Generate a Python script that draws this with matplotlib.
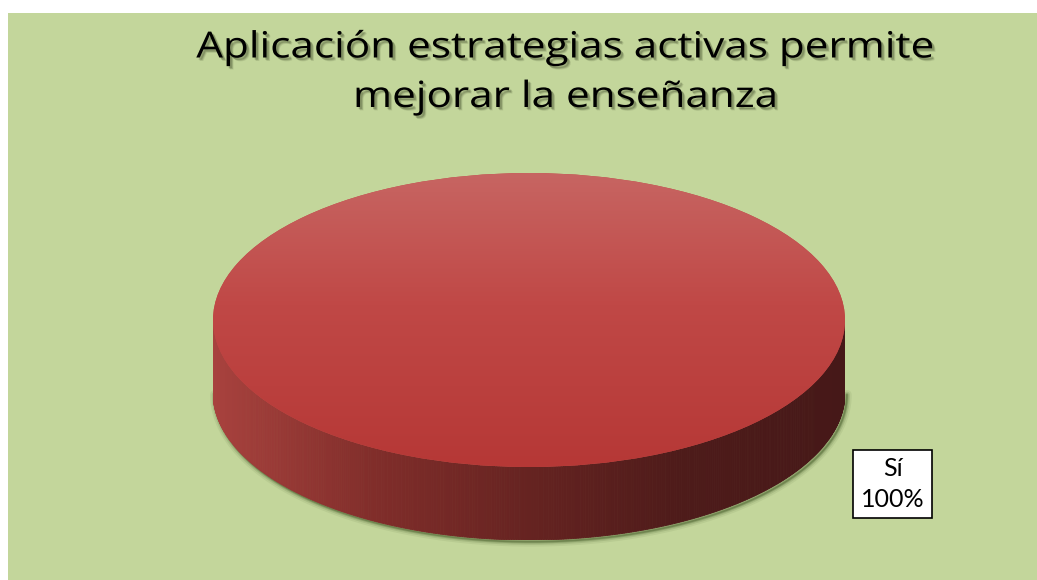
import numpy as np
import matplotlib
matplotlib.use("Agg")
import matplotlib.pyplot as plt
from matplotlib.patches import Rectangle, Polygon
from matplotlib.colors import LinearSegmentedColormap
from matplotlib.transforms import Affine2D
import matplotlib.patheffects as pe

# ---- data ----
categories = ["Sí"]
values = [100]
title = "Aplicación estrategias activas permite\nmejorar la enseñanza"

W, H = 1037, 580
fig = plt.figure(figsize=(W / 100, H / 100), dpi=100)
fig.patch.set_facecolor("white")

# green chart area
bg = fig.add_axes([0, 0, 1, 1])
bg.set_xlim(0, W)
bg.set_ylim(H, 0)
bg.axis("off")
bg.add_patch(Rectangle((8, 13), W - 8, H - 13, facecolor="#C3D69B", edgecolor="none"))


class Stretch(pe.AbstractPathEffect):
    """Horizontal widening around a centre, to imitate the wide letter spacing."""
    def __init__(self, cx, sx, offset=(0, 0), color=None, alpha=1.0):
        super().__init__(offset)
        self.cx, self.sx, self.color, self.alpha = cx, sx, color, alpha

    def draw_path(self, renderer, gc, tpath, affine, rgbFace=None):
        aff = (affine + Affine2D().translate(-self.cx, 0).scale(self.sx, 1)
               .translate(self.cx, 0) + self._offset_transform(renderer))
        gc0 = renderer.new_gc()
        gc0.copy_properties(gc)
        face = rgbFace
        if self.color is not None:
            face = matplotlib.colors.to_rgba(self.color, self.alpha)
            gc0.set_alpha(self.alpha)
        renderer.draw_path(gc0, tpath, aff, face)
        gc0.restore()


cx = 566
shadow_fx = [Stretch(cx, 1.17, offset=(dx, dy), color="#202a10", alpha=a)
             for dx, dy, a in [(2.5, -2.5, 0.10), (2, -2, 0.15), (1.5, -1.5, 0.2)]]
bg.text(cx, 29, title, ha="center", va="top", fontsize=26,
        family="Open Sans", color="black", linespacing=1.5,
        path_effects=shadow_fx + [Stretch(cx, 1.17)])

# ---- pie axes ----
rx_px, ry_px, depth_px = 316, 147, 73
left, top = 213, 173
d = depth_px / ry_px
ax = fig.add_axes([left / W, (H - (top + 2 * ry_px + depth_px)) / H,
                   2 * rx_px / W, (2 * ry_px + depth_px) / H])
wedges, _ = ax.pie(values, startangle=90, counterclock=False,
                   wedgeprops=dict(linewidth=0))
ax.set_aspect("auto")
ax.axis("off")

side_cmap = LinearSegmentedColormap.from_list(
    "side", [(0.0, (168/255, 66/255, 62/255)), (0.26, (128/255, 45/255, 42/255)),
             (0.5, (102/255, 35/255, 33/255)), (0.74, (78/255, 27/255, 26/255)),
             (1.0, (70/255, 24/255, 24/255))])
top_cmap = LinearSegmentedColormap.from_list(
    "top", [(0.0, (199/255, 101/255, 98/255)), (0.45, (192/255, 72/255, 70/255)),
            (1.0, (182/255, 56/255, 54/255))])

# soft shadow under the side
th = np.linspace(np.pi * 1.0, np.pi * 2.0, 300)
for lw, a in [(7, 0.07), (4.5, 0.12), (2.5, 0.2), (1.2, 0.3)]:
    ax.plot(np.cos(th) * 1.0 + 0.006, np.sin(th) - d - 0.012, color="#2c4212",
            lw=lw, alpha=a, solid_capstyle="round", clip_on=False, zorder=1)

# side of the cylinder (front half), strips coloured by horizontal position
for w in wedges:
    t1, t2 = w.theta1, w.theta2
    span = t2 - t1
    n = 400
    th = np.linspace(np.pi, 2 * np.pi, n + 1)
    for i in range(n):
        a0, a1 = th[i], th[i + 1]
        tm = np.rad2deg(0.5 * (a0 + a1))
        if span < 359.999 and ((tm - t1) % 360) > span:
            continue
        x0, x1 = np.cos(a0), np.cos(a1)
        y0, y1 = np.sin(a0), np.sin(a1)
        c = side_cmap((np.cos(np.deg2rad(tm)) + 1) / 2)
        ax.add_patch(Polygon([(x0, y0), (x1, y1), (x1, y1 - d), (x0, y0 - d)],
                             closed=True, facecolor=c, edgecolor=c, lw=0.6, zorder=2))

# top face with vertical gradient clipped to each wedge
grad = np.linspace(0, 1, 256).reshape(-1, 1)
for w in wedges:
    w.set_zorder(3)
    w.set_facecolor((0.75, 0.28, 0.27))
    im = ax.imshow(grad, cmap=top_cmap, extent=[-1, 1, -1, 1], origin="upper",
                   aspect="auto", zorder=4, interpolation="bilinear")
    im.set_clip_path(w)
ax.set_xlim(-1, 1)
ax.set_ylim(-1 - d, 1)

# data label
labels = [f"{c}\n{v}%" for c, v in zip(categories, values)]
bg.text(892.5, 484, labels[0], ha="center", va="center", fontsize=18,
        family="Lato", linespacing=1.4,
        bbox=dict(boxstyle="square,pad=0.3", facecolor="white", edgecolor="black", lw=1.2))

fig.savefig("out.png", dpi=100, facecolor=fig.get_facecolor())
